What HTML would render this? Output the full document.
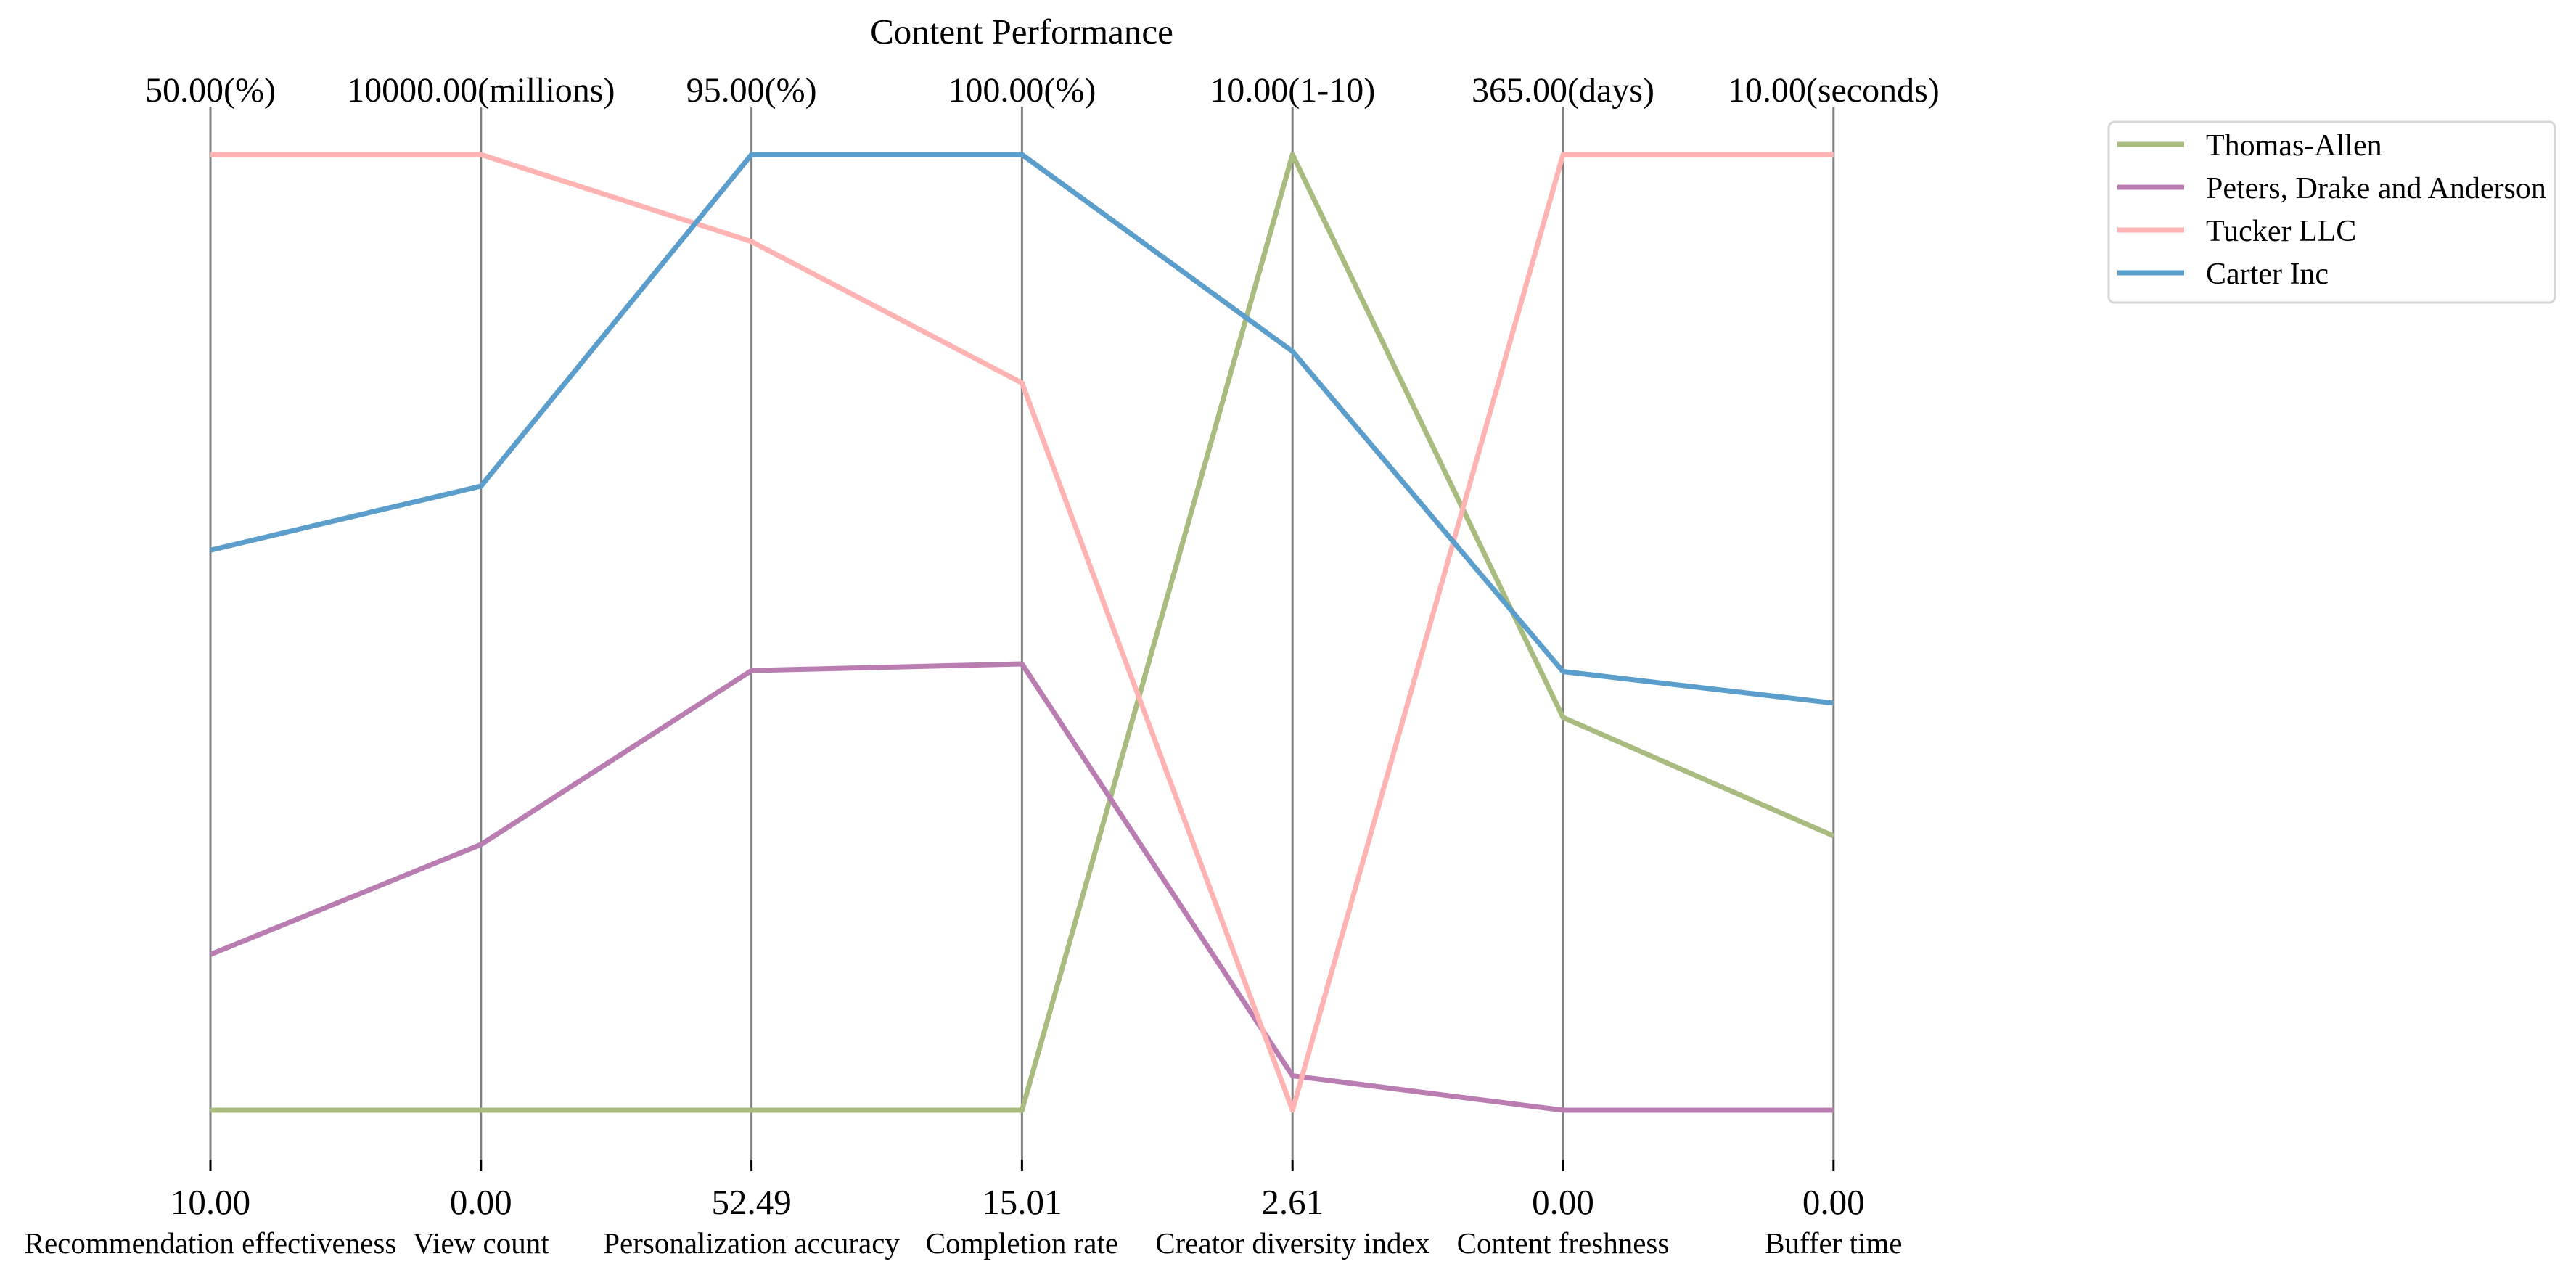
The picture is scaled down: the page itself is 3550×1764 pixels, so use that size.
<!DOCTYPE html>
<html><head><meta charset="utf-8"><style>
html,body{margin:0;padding:0;background:#fff;}
svg{display:block;font-family:"Liberation Serif","DejaVu Serif",serif;}
</style></head><body>
<svg id="chart" width="3550" height="1764" viewBox="0 0 3550 1764" xmlns="http://www.w3.org/2000/svg">
<text x="1408" y="60" font-size="49" text-anchor="middle">Content Performance</text>
<g id="axes"></g>
<g id="lines"></g>
<g id="legend"></g>
</svg>
<script>
const dimensions = ["Recommendation effectiveness","View count","Personalization accuracy","Completion rate","Creator diversity index","Content freshness","Buffer time"];
const topLabels = ["50.00(%)","10000.00(millions)","95.00(%)","100.00(%)","10.00(1-10)","365.00(days)","10.00(seconds)"];
const bottomLabels = ["10.00","0.00","52.49","15.01","2.61","0.00","0.00"];
const seriesNames = ["Thomas-Allen","Peters, Drake and Anderson","Tucker LLC","Carter Inc"];
const seriesColors = ["#a9bc7f","#b97db2","#ffb3b3","#5b9dcb"];
const thomasAllen = [0,0,0,0,1,0.411,0.287];
const petersDrake = [0.163,0.278,0.460,0.467,0.036,0,0];
const tuckerLLC = [1,1,0.909,0.761,0,1,1];
const carterInc = [0.586,0.653,1,1,0.794,0.459,0.426];
const seriesValues = [thomasAllen,petersDrake,tuckerLLC,carterInc];

const NS="http://www.w3.org/2000/svg";
const x0=290, xStep=372.8, yTop=213, yBot=1530;
const xPos=i=>x0+i*xStep;
const yPos=v=>yBot-v*(yBot-yTop);
function mk(tag,attrs,parent){const e=document.createElementNS(NS,tag);for(const k in attrs)e.setAttribute(k,attrs[k]);parent.appendChild(e);return e;}
const axesG=document.getElementById('axes');
dimensions.forEach((d,i)=>{
  const l=mk('line',{x1:xPos(i),x2:xPos(i),y1:147,y2:1598,stroke:'#808080','stroke-width':3},axesG);
  
  
  const tk=mk('line',{x1:xPos(i),x2:xPos(i),y1:1598,y2:1614,stroke:'#000','stroke-width':3},axesG);
  
  
  const t=mk('text',{x:xPos(i),y:140,'font-size':48,'text-anchor':'middle'},axesG);t.textContent=topLabels[i];
  
  
  const b=mk('text',{x:xPos(i),y:1673,'font-size':49,'text-anchor':'middle'},axesG);b.textContent=bottomLabels[i];
  
  
  const n=mk('text',{x:xPos(i),y:1727,'font-size':41,'text-anchor':'middle'},axesG);n.textContent=d;
  
  
});
const linesG=document.getElementById('lines');
seriesValues.forEach((vals,s)=>{
  const pts=vals.map((v,i)=>xPos(i)+','+yPos(v)).join(' ');
  const p=mk('polyline',{points:pts,fill:'none',stroke:seriesColors[s],'stroke-width':7,'stroke-linejoin':'round'},linesG);
  
  
});
const lg=document.getElementById('legend');
const box=mk('rect',{x:2906,y:168,width:615,height:249,rx:8,fill:'#fff',stroke:'#d6d6d6','stroke-width':3},lg);


seriesNames.forEach((n,i)=>{
  const y=199+i*59;
  const l=mk('line',{x1:2918,x2:3010,y1:y,y2:y,stroke:seriesColors[i],'stroke-width':7},lg);
  
  
  const t=mk('text',{x:3040,y:y+15,'font-size':42},lg);t.textContent=n;
  
  
});
</script>
</body></html>
